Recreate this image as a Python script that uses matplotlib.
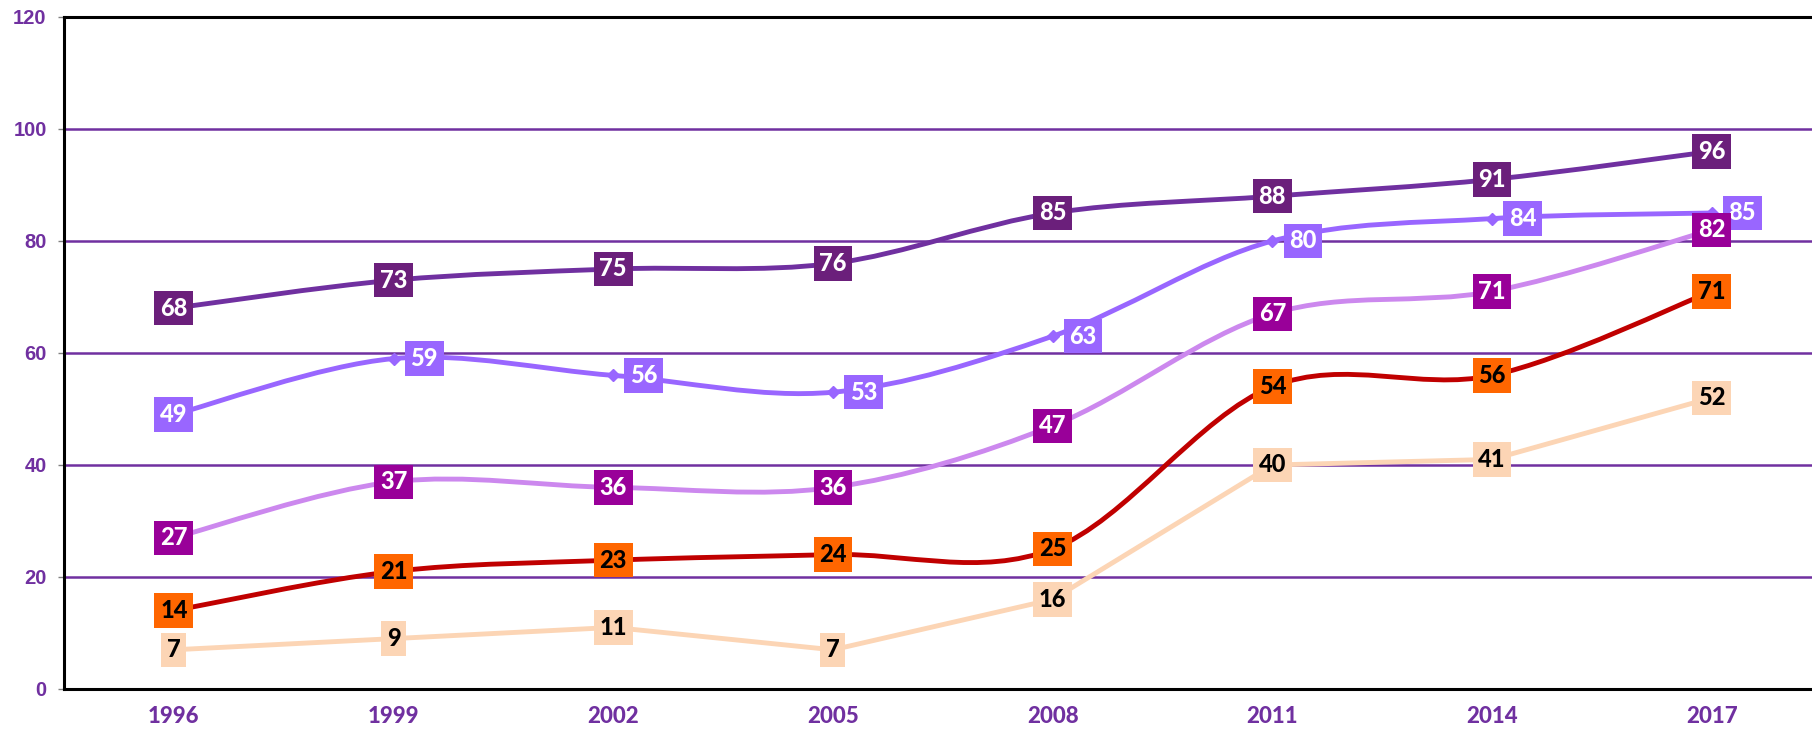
import numpy as np
import matplotlib.pyplot as plt
from matplotlib.path import Path
from matplotlib.patches import PathPatch

# chart data
years = ['1996', '1999', '2002', '2005', '2008', '2011', '2014', '2017']
s1 = [68, 73, 75, 76, 85, 88, 91, 96]
s2 = [49, 59, 56, 53, 63, 80, 84, 85]
s3 = [27, 37, 36, 36, 47, 67, 71, 82]
s4 = [14, 21, 23, 24, 25, 54, 56, 71]
s5 = [7, 9, 11, 7, 16, 40, 41, 52]
yticks = [0, 20, 40, 60, 80, 100, 120]

PURPLE = '#7030A0'


def smooth_path(xs, ys):
    # Bezier curve through the points, like Excel's "smoothed line"
    pts = np.column_stack([xs, ys]).astype(float)
    n = len(pts)
    verts = [pts[0]]
    codes = [Path.MOVETO]
    for i in range(n - 1):
        p0 = pts[max(i - 1, 0)]
        p1 = pts[i]
        p2 = pts[i + 1]
        p3 = pts[min(i + 2, n - 1)]
        verts += [p1 + (p2 - p0) / 6, p2 - (p3 - p1) / 6, p2]
        codes += [Path.CURVE4] * 3
    return Path(verts, codes)


fig = plt.figure(figsize=(18.12, 7.31), dpi=100)
ax = fig.add_axes([64 / 1812, 42 / 731, 1757.6 / 1812, 672 / 731])

x = np.arange(len(years))

# (values, line colour, smoothed, box colour, text colour, label offset in pt)
series = [
    (s1, '#7030A0', True, '#6B1F7B', 'white', 0),
    (s2, '#9966FF', True, '#9966FF', 'white', 22),
    (s3, '#CC88EE', True, '#990099', 'white', 0),
    (s4, '#C00000', True, '#FF6600', 'black', 0),
    (s5, '#FCD5B5', False, '#FCD5B5', 'black', 0),
]

for k, (vals, lc, smooth, bc, tc, dx) in enumerate(series):
    z = 3 + (len(series) - k) * 0.1
    if smooth:
        ax.add_patch(PathPatch(smooth_path(x, vals), fill=False, edgecolor=lc,
                               lw=3.5, capstyle='round', zorder=z))
    else:
        ax.plot(x, vals, color=lc, lw=3.5, solid_capstyle='round', zorder=z)
    if dx:
        ax.plot(x, vals, ls='none', marker='D', ms=6, color=lc, zorder=z)

for k, (vals, lc, smooth, bc, tc, dx) in enumerate(series):
    for i, v in enumerate(vals):
        off = 0 if (dx and i == 0) else dx
        ax.annotate(str(v), (i, v), xytext=(off, 0), textcoords='offset points',
                    ha='center', va='center', fontsize=17, fontweight=900,
                    family='Lato', color=tc,
                    bbox=dict(boxstyle='square,pad=0.24', fc=bc, ec='none'),
                    zorder=10 + k)

ax.set_xlim(-0.5, 7.5)
ax.set_ylim(0, 120)
ax.set_xticks(x, labels=years, fontsize=16, fontweight=900, family='Lato', color=PURPLE)
ax.set_yticks(yticks, labels=[str(t) for t in yticks], fontsize=14.5, fontweight='bold',
              family='Liberation Sans', color=PURPLE)

ax.yaxis.grid(True, color=PURPLE, lw=1.8)
ax.set_axisbelow(True)

for side in ['left', 'bottom', 'top']:
    ax.spines[side].set_color('black')
    ax.spines[side].set_linewidth(2.2)
ax.spines['right'].set_visible(False)

ax.tick_params(axis='x', length=0, pad=12)
ax.tick_params(axis='y', length=4.5, width=1, color='#808080', pad=8)

fig.savefig('out.png', dpi=100)
